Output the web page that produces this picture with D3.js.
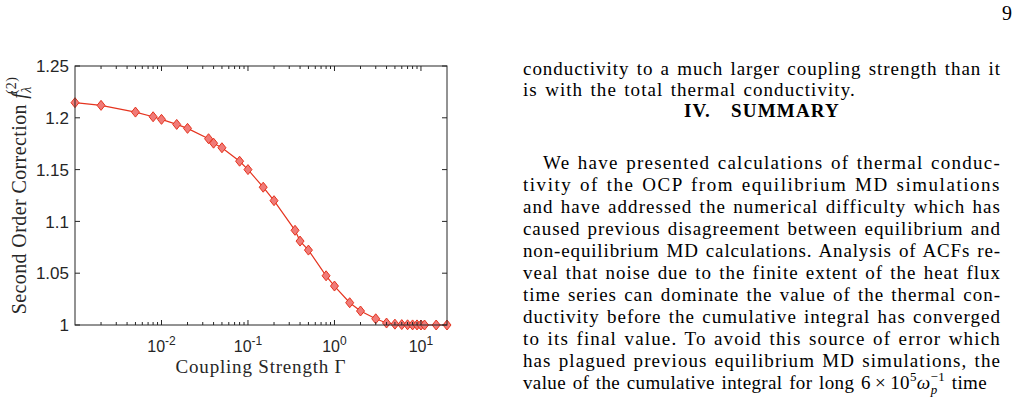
<!DOCTYPE html>
<html>
<head>
<meta charset="utf-8">
<script src="https://cdn.jsdelivr.net/npm/d3@7.9.0/dist/d3.min.js"></script>
<style>
  body { margin: 0; background: #fff; }
  svg { display: block; }
</style>
</head>
<body>
<div id="page"></div>
<script>
// coupling strength values (x) and second order correction (y)
const gamma = [0.001, 0.002, 0.005, 0.008, 0.01, 0.015, 0.02, 0.035, 0.04, 0.05,
  0.08, 0.1, 0.15, 0.2, 0.35, 0.4, 0.5, 0.8, 1, 1.5, 2, 3, 4, 5, 6, 7, 8, 9, 10, 11, 15, 20];
const correction = [1.2146, 1.212, 1.2055, 1.201, 1.1985, 1.1936, 1.1898, 1.1798, 1.1755, 1.1711,
  1.1581, 1.150, 1.133, 1.120, 1.0914, 1.081, 1.0723, 1.0475, 1.0376, 1.0215, 1.0135, 1.006,
  1.0019, 1.0008, 1.0004, 1.0002, 1.0001, 1.0001, 1.0, 1.0, 1.0, 1.0];
const yTicks = [1, 1.05, 1.1, 1.15, 1.2, 1.25];
const yTickLabels = ['1', '1.05', '1.1', '1.15', '1.2', '1.25'];
const xTicks = [0.01, 0.1, 1, 10];
const xTickExps = ['-2', '-1', '0', '1'];

// right column text, one entry per typeset line
const columnLines = [
  'conductivity to a much larger coupling strength than it',
  'is with the total thermal conductivity.',
  'We have presented calculations of thermal conduc-',
  'tivity of the OCP from equilibrium MD simulations',
  'and have addressed the numerical difficulty which has',
  'caused previous disagreement between equilibrium and',
  'non-equilibrium MD calculations. Analysis of ACFs re-',
  'veal that noise due to the finite extent of the heat flux',
  'time series can dominate the value of the thermal con-',
  'ductivity before the cumulative integral has converged',
  'to its final value. To avoid this source of error which',
  'has plagued previous equilibrium MD simulations, the'
];

const width = 1019, height = 405;
const margin = { top: 66, right: 572, bottom: 80, left: 75 };
const serif = '"Liberation Serif", "DejaVu Serif", serif';
const sans = '"Liberation Sans", Arial, sans-serif';
const axisColor = '#262626';

const svg = d3.select('#page').append('svg')
  .attr('width', width)
  .attr('height', height);

const x = d3.scaleLog()
  .domain([0.001, 20])
  .range([margin.left, width - margin.right]);

const y = d3.scaleLinear()
  .domain([1, 1.25])
  .range([height - margin.bottom, margin.top]);

const [x0, x1] = x.range();
const [y0, y1] = y.range();

// line + diamond markers
const line = d3.line()
  .x((d, i) => x(gamma[i]))
  .y(d => y(d));

svg.append('path')
  .datum(correction)
  .attr('fill', 'none')
  .attr('stroke', '#e5341f')
  .attr('stroke-width', 1.2)
  .attr('d', line);

svg.append('g')
  .selectAll('path')
  .data(correction)
  .join('path')
  .attr('transform', (d, i) => `translate(${x(gamma[i])},${y(d)})`)
  .attr('d', 'M0,-5L4,0L0,5L-4,0Z')
  .attr('fill', '#f07b78')
  .attr('stroke', '#e5341f')
  .attr('stroke-width', 1);

// box with inward ticks on all four sides (matlab style)
const axes = svg.append('g').attr('stroke', axisColor).attr('fill', 'none');

axes.append('rect')
  .attr('x', x0).attr('y', y1)
  .attr('width', x1 - x0).attr('height', y0 - y1)
  .attr('stroke-width', 1);

const minorTicks = [];
for (let e = -3; e <= 1; e++) {
  for (let m = 2; m <= 9; m++) {
    const v = m * Math.pow(10, e);
    if (v > 0.001 && v < 20) minorTicks.push(v);
  }
}

minorTicks.forEach(v => {
  axes.append('line').attr('x1', x(v)).attr('x2', x(v)).attr('y1', y0).attr('y2', y0 - 3);
  axes.append('line').attr('x1', x(v)).attr('x2', x(v)).attr('y1', y1).attr('y2', y1 + 3);
});

xTicks.forEach(v => {
  axes.append('line').attr('x1', x(v)).attr('x2', x(v)).attr('y1', y0).attr('y2', y0 - 5);
  axes.append('line').attr('x1', x(v)).attr('x2', x(v)).attr('y1', y1).attr('y2', y1 + 5);
});

yTicks.forEach(v => {
  axes.append('line').attr('x1', x0).attr('x2', x0 + 5).attr('y1', y(v)).attr('y2', y(v));
  axes.append('line').attr('x1', x1).attr('x2', x1 - 5).attr('y1', y(v)).attr('y2', y(v));
});

// tick labels
svg.append('g')
  .selectAll('text')
  .data(yTicks)
  .join('text')
  .attr('x', x0 - 6)
  .attr('y', d => y(d))
  .attr('dy', '0.36em')
  .attr('text-anchor', 'end')
  .attr('fill', axisColor)
  .style('font-family', sans)
  .style('font-size', '17px')
  .text((d, i) => yTickLabels[i]);

xTicks.forEach((v, i) => {
  const t = svg.append('text')
    .attr('x', x(v))
    .attr('y', y0 + 27)
    .attr('text-anchor', 'middle')
    .attr('fill', axisColor)
    .style('font-family', sans)
    .style('font-size', '16px');
  t.append('tspan').text('10');
  t.append('tspan').attr('dy', -7).style('font-size', '12px').text(xTickExps[i]);
});

// axis titles
svg.append('text')
  .attr('x', (x0 + x1) / 2)
  .attr('y', y0 + 48)
  .attr('text-anchor', 'middle')
  .attr('fill', axisColor)
  .style('font-family', serif)
  .style('font-size', '19px')
  .style('letter-spacing', '0.8px')
  .text('Coupling Strength Γ');

const yTitle = svg.append('text')
  .attr('transform', `translate(26,${(y0 + y1) / 2}) rotate(-90)`)
  .attr('text-anchor', 'middle')
  .attr('fill', axisColor)
  .style('font-family', serif)
  .style('font-size', '20px')
  .style('letter-spacing', '0.4px');
yTitle.append('tspan').text('Second Order Correction ');
yTitle.append('tspan').style('font-style', 'italic').text('f');
yTitle.append('tspan').attr('dy', 5).style('font-size', '14px').style('font-style', 'italic').text('λ');
yTitle.append('tspan').attr('dx', -8).attr('dy', -15).style('font-size', '14px').text('(2)');

// page number
svg.append('text')
  .attr('x', 1012).attr('y', 20)
  .attr('text-anchor', 'end')
  .style('font-family', serif)
  .style('font-size', '20px')
  .text('9');

// right column: each justified line gets letter-spacing so it fills its width,
// leaving a small fixed extra gap between words
const colLeft = 523, colRight = 1001, indent = 20;
const baselines = [75, 96, 169, 191, 213, 235, 257, 279, 301, 323, 345, 367];
const unjustified = [1];
const wordGap = 1.5;
const fitted = [];

function fit(t, left, right) {
  const natural = t.node().getComputedTextLength();
  const chars = t.node().getNumberOfChars();
  const spaces = (t.text().match(/ /g) || []).length;
  const ls = (right - left - natural - spaces * wordGap) / chars;
  t.style('letter-spacing', `${ls}px`).style('word-spacing', `${wordGap}px`);
  fitted.push(ls);
}

const bodyTexts = columnLines.map((s, i) => {
  const left = i === 2 ? colLeft + indent : colLeft;
  const t = svg.append('text')
    .attr('x', left)
    .attr('y', baselines[i])
    .style('font-family', serif)
    .style('font-size', '19px')
    .text(s);
  if (!unjustified.includes(i)) fit(t, left, colRight);
  return t;
});

// ragged last line of the paragraph uses the average spacing
unjustified.forEach(i => {
  bodyTexts[i].style('letter-spacing', `${d3.mean(fitted)}px`).style('word-spacing', `${wordGap}px`);
});

svg.append('text')
  .attr('x', (colLeft + colRight) / 2)
  .attr('y', 117)
  .attr('text-anchor', 'middle')
  .style('font-family', serif)
  .style('font-size', '19px')
  .style('font-weight', 'bold')
  .style('letter-spacing', '1.2px')
  .style('word-spacing', '14px')
  .text('IV. SUMMARY');

// last line carries inline math
const last = svg.append('text')
  .attr('x', colLeft)
  .attr('y', 389)
  .style('font-family', serif)
  .style('font-size', '19px');
last.append('tspan').text('value of the cumulative integral for long 6\u2009×\u200910');
last.append('tspan').attr('dy', -8).style('font-size', '13px').text('5');
last.append('tspan').attr('dy', 8).style('font-style', 'italic').text('ω');
last.append('tspan').attr('dy', 5).style('font-size', '13px').style('font-style', 'italic').text('p');
last.append('tspan').attr('dx', -7).attr('dy', -13).style('font-size', '13px').text('−1');
last.append('tspan').attr('dy', 8).text(' time');
fit(last, colLeft, colRight - 7);
</script>
</body>
</html>
